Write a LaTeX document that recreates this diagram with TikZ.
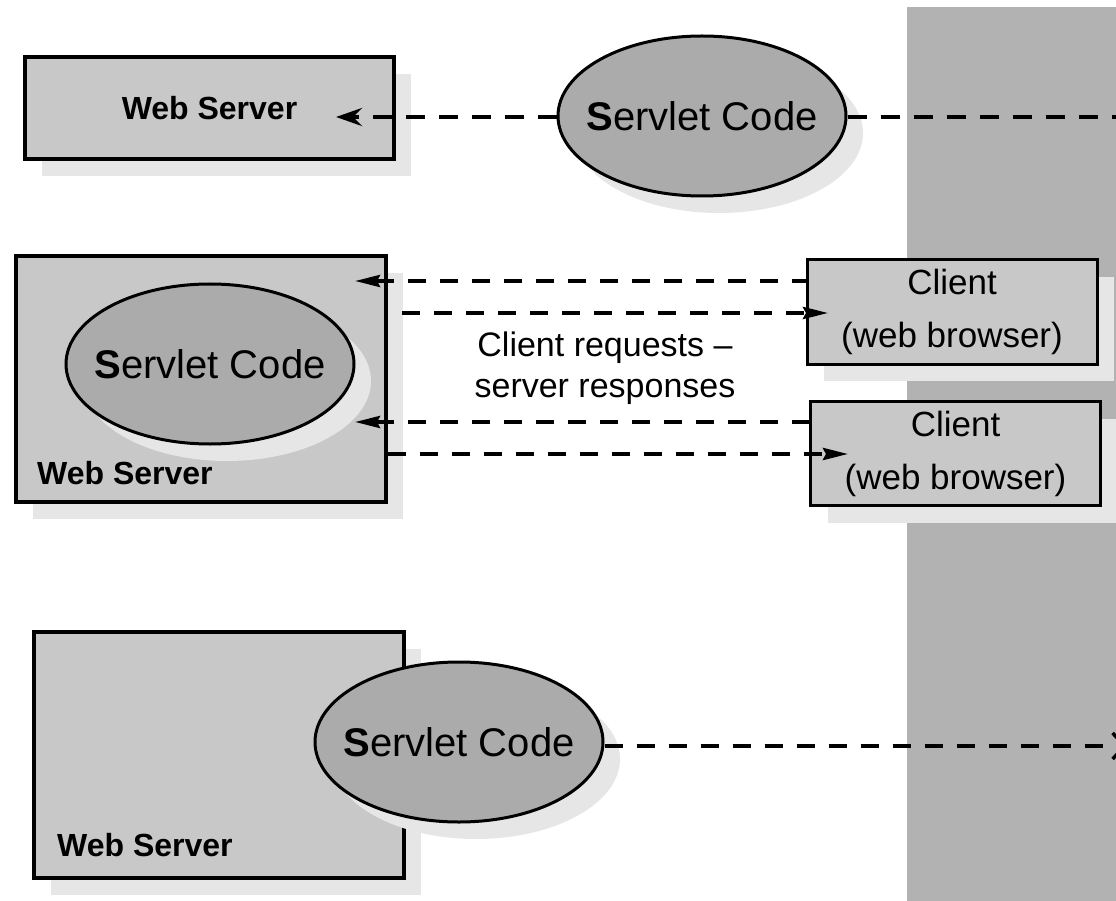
\documentclass[tikz,border=0pt]{standalone}
\usepackage{fontspec}
\setmainfont{Liberation Sans}
\usetikzlibrary{shapes.geometric,shadows,arrows.meta}
\definecolor{boxgray}{HTML}{C8C8C8}
\definecolor{ovalgray}{HTML}{ABABAB}
\definecolor{bandgray}{HTML}{B2B2B2}
\definecolor{shadegray}{HTML}{E6E6E6}
\newcommand{\servlettext}{\makebox[0pt]{\textbf{S}ervlet Code}}
\tikzset{
    boxshadow/.style={drop shadow={shadow xshift=17pt, shadow yshift=-17pt, fill=shadegray, opacity=1}},
    server/.style={draw, line width=3.5pt, fill=boxgray, boxshadow, inner sep=0pt, minimum width=370pt, minimum height=246pt},
    wslabel/.style={font=\fontsize{32}{38}\selectfont\bfseries, inner sep=0pt},
    servlet/.style={ellipse, draw, line width=3pt, fill=ovalgray, boxshadow, inner sep=0pt, minimum width=288pt, minimum height=160pt, font=\fontsize{40}{48}\selectfont},
    client/.style={draw, line width=3pt, fill=boxgray, boxshadow, inner sep=0pt, minimum width=290pt, minimum height=104pt, align=center, font=\fontsize{35}{53}\selectfont},
    link/.style={line width=3.5pt, dash pattern=on 18pt off 14pt},
    biglink/.style={line width=4.5pt, dash pattern=on 19pt off 14pt},
    thintip/.tip={Stealth[length=25pt, width=12pt, inset=3pt]},
}
\begin{document}
\begin{tikzpicture}[x=1pt, y=-1pt]
    \useasboundingbox (0,0) rectangle (1116,901);
    \fill[bandgray] (907,7) rectangle (1116,901);

    \node[server, minimum width=369pt, minimum height=102pt, wslabel] (ws1) at (209.5,108) {Web Server};
    \node[servlet] (se1) at (702,116) {\servlettext};

    \node[server] (ws2) at (201,379) {};
    \node[servlet] (se2) at (210,364) {\servlettext};
    \node[wslabel, anchor=west] (wl2) at (37,473) {Web Server};

    \foreach \n/\x/\y in {1/952/312, 2/955.5/453.5}
        \node[client] (cl\n) at (\x,\y) {Client\\(web browser)};
    \node[align=center, font=\fontsize{34}{41}\selectfont] (msg) at (605,368) {Client requests \textendash\\server responses};

    \node[server] (ws3) at (219,755) {};
    \node[wslabel, anchor=west] (wl3) at (57,845) {Web Server};
    \node[servlet] (se3) at (459,742) {\servlettext};

    \coordinate (t1) at (336,117);
    \coordinate (e1) at (1122,117);
    \draw[biglink, -{Stealth[length=26pt, width=18pt, inset=9pt]}] (se1.west |- t1) -- (t1);
    \draw[biglink] (se1.east |- e1) -- (e1);

    \coordinate (r1) at (355,281);
    \coordinate (s1) at (402,313);
    \coordinate (q1) at (828,313);
    \coordinate (r2) at (355,422);
    \coordinate (q2) at (848,454);
    \draw[link, thintip-] (r1) -- (cl1.west |- r1);
    \draw[link, -thintip] (s1) -- (q1);
    \draw[link, thintip-] (r2) -- (cl2.west |- r2);
    \draw[link, -thintip] (ws2.east |- q2) -- (q2);

    \coordinate (e3) at (1127,746);
    \draw[link, -{Straight Barb[length=12pt, width=26pt]}] (se3.east |- e3) -- (e3);
\end{tikzpicture}
\end{document}
